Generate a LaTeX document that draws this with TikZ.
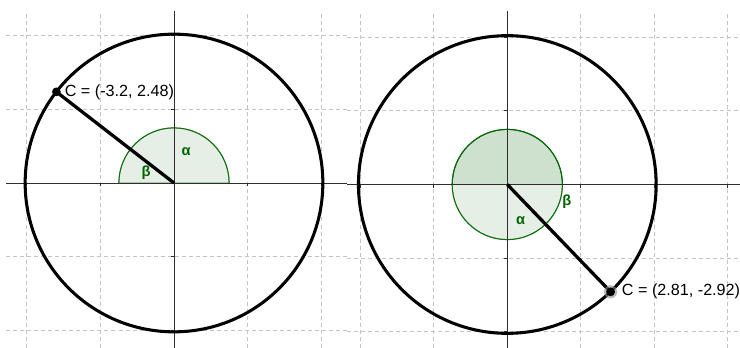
\documentclass[tikz,border=0pt]{standalone}
\usepackage{fontspec}
\setmainfont{Liberation Sans}
\usepackage{xcolor}
\definecolor{angle-green}{HTML}{006400}
\definecolor{grid-gray}{HTML}{C4C4C4}
\definecolor{axis-dark}{HTML}{2E2E2E}

\tikzset{
  gridline/.style={grid-gray, line width=0.85pt, dash pattern=on 3.4pt off 2.6pt},
  axisline/.style={axis-dark, line width=0.85pt},
  bigcircle/.style={black, line width=2.6pt},
  radline/.style={black, line width=2.8pt},
  anglefill/.style={fill=angle-green, fill opacity=0.1, draw=angle-green, draw opacity=0.75, line width=0.85pt},
  anglelabel/.style={text=angle-green, font=\fontsize{12.5}{14}\selectfont\bfseries},
  dotnode/.style={circle, fill=black, inner sep=0pt, minimum size=7.5pt},
  pointlabel/.style={anchor=west, inner sep=0pt, font=\fontsize{13.8}{16}\selectfont}
}

\begin{document}
\begin{tikzpicture}[x=0.03cm, y=-0.03cm]
    \useasboundingbox (0,0) rectangle (740,348);

    % left panel
    \begin{scope}[shift={(174,183)}, x=1.1025cm, y=1.1025cm]
      \foreach \g in {-4,-2,2,4}
        \draw[gridline] (\g,-4.49) -- (\g,4.68);
      \foreach \g in {-4,-2,2,4}
        \draw[gridline] (-4.57,\g) -- (4.71,\g);
      \coordinate (O1) at (0,0);
      \coordinate (C1) at (-3.2,2.48);
      \fill[anglefill] (O1) -- (0:1.5) arc[start angle=0, end angle=142.22, radius=1.5] -- cycle;
      \fill[anglefill] (O1) -- (142.22:1.5) arc[start angle=142.22, end angle=180, radius=1.5] -- cycle;
      \draw[anglefill, fill=none] (0:1.5) arc[start angle=0, end angle=180, radius=1.5];
      \draw[axisline] (-4.57,0) -- (4.71,0);
      \draw[axisline] (0,-4.49) -- (0,4.68);
      \foreach \t in {-4,-2,2,4} {
        \draw[axisline] (\t,0) -- (\t,-0.09);
        \draw[axisline] (0,\t) -- (-0.09,\t);
      }
      \draw[bigcircle] (O1) circle[radius=4.05];
      \draw[radline] (O1) -- (C1);
      \node[dotnode] (P1) at (C1) {};
      \node[pointlabel] (L1) at ([xshift=7pt]C1) {C = (-3.2, 2.48)};
      \node[anglelabel] (a1) at (0.33,0.84) {α};
      \node[anglelabel] (b1) at (-0.76,0.27) {β};
    \end{scope}

    % right panel
    \begin{scope}[shift={(507.3,184.5)}, x=1.1025cm, y=1.1025cm]
      \foreach \g in {-4,-2,2,4,6}
        \draw[gridline] (\g,-4.45) -- (\g,4.72);
      \foreach \g in {-4,-2,2,4}
        \draw[gridline] (-4.36,\g) -- (6.33,\g);
      \coordinate (O2) at (0,0);
      \coordinate (C2) at (2.81,-2.92);
      \fill[anglefill] (O2) -- (0:1.5) arc[start angle=0, end angle=313.91, radius=1.5] -- cycle;
      \fill[anglefill] (O2) -- (-46.09:1.5) arc[start angle=-46.09, end angle=180, radius=1.5] -- cycle;
      \draw[anglefill, fill=none] (O2) circle[radius=1.5];
      \draw[axisline] (-4.36,0) -- (6.33,0);
      \draw[axisline] (0,-4.45) -- (0,4.72);
      \foreach \t in {-4,-2,2,4,6}
        \draw[axisline] (\t,0) -- (\t,-0.09);
      \foreach \t in {-4,-2,2,4}
        \draw[axisline] (0,\t) -- (-0.09,\t);
      \draw[bigcircle] (O2) circle[radius=4.05];
      \draw[radline] (O2) -- (C2);
      \fill[black!45, opacity=0.6] (C2) circle[radius=0.18];
      \node[dotnode] (P2) at (C2) {};
      \node[pointlabel] (L2) at ([xshift=9.5pt]C2) {C = (2.81, -2.92)};
      \node[anglelabel] (a2) at (0.36,-0.98) {α};
      \node[anglelabel] (b2) at (1.62,-0.46) {β};
    \end{scope}
\end{tikzpicture}
\end{document}
